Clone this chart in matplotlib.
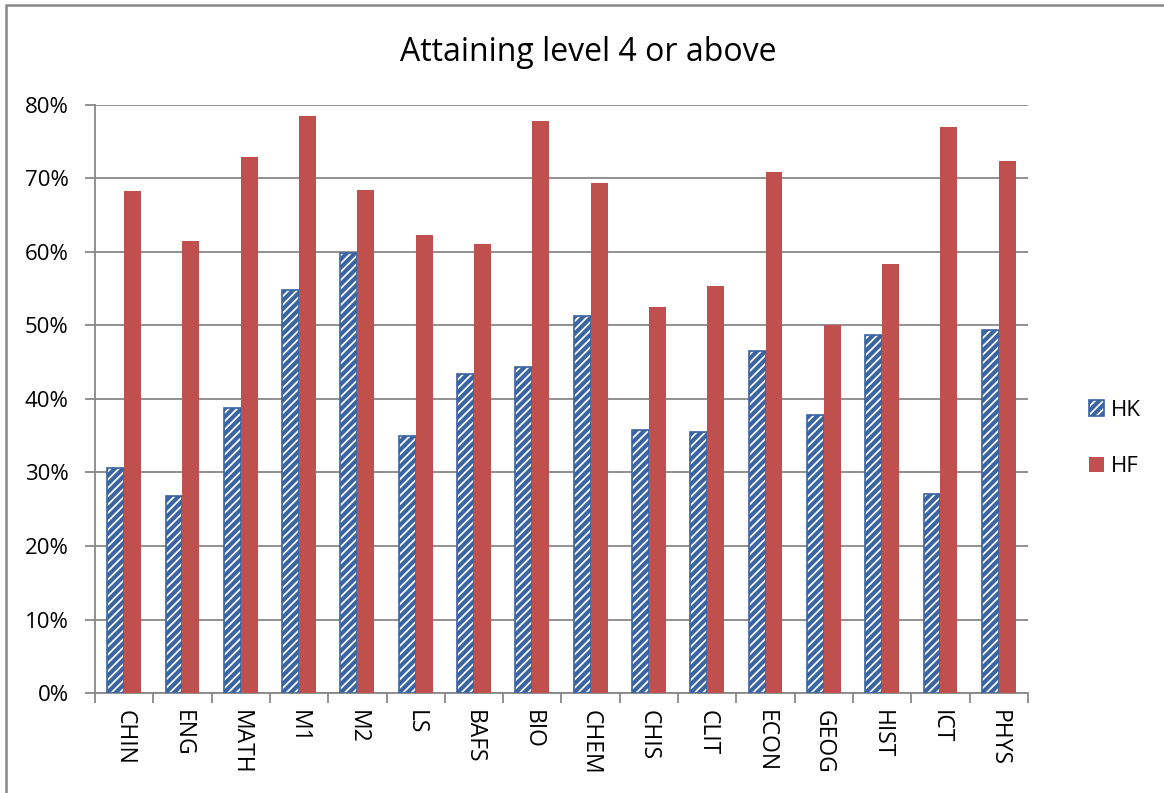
import numpy as np
import matplotlib.pyplot as plt
import matplotlib as mpl
from matplotlib.patches import Rectangle, Patch

subjects = ['CHIN', 'ENG', 'MATH', 'M1', 'M2', 'LS', 'BAFS', 'BIO', 'CHEM',
            'CHIS', 'CLIT', 'ECON', 'GEOG', 'HIST', 'ICT', 'PHYS']
hk = [30.6, 26.8, 38.8, 54.8, 59.9, 35.0, 43.4, 44.4, 51.3,
      35.8, 35.5, 46.5, 37.8, 48.7, 27.1, 49.3]
hf = [68.2, 61.4, 72.9, 78.5, 68.4, 62.3, 61.1, 77.8, 69.4,
      52.5, 55.4, 70.9, 50.1, 58.4, 76.9, 72.4]

mpl.rcParams['font.family'] = ['Open Sans', 'DejaVu Sans']
mpl.rcParams['hatch.linewidth'] = 3.0

blue = '#3A64A2'
red = '#C0504D'
grey = '#888888'

fig = plt.figure(figsize=(11.64, 7.93), dpi=100)
ax = fig.add_axes([0.0816, 0.126, 0.8015, 0.742])

x = np.arange(len(subjects))
w = 0.29
ax.bar(x - w / 2, np.array(hk) / 100, w, facecolor='white', edgecolor=blue,
       hatch='////', linewidth=1.2, label='HK', zorder=3)
ax.bar(x + w / 2, np.array(hf) / 100, w, color=red, label='HF', zorder=3)

ax.set_xlim(-0.5, len(subjects) - 0.5)
ax.set_ylim(0, 0.8)
ax.set_yticks(np.arange(0, 0.81, 0.1))
ax.set_yticklabels([f'{int(v)}%' for v in np.arange(0, 81, 10)], fontsize=16)
ax.yaxis.grid(True, color=grey, linewidth=1.3, zorder=0)
ax.set_axisbelow(True)

# category labels between boundary tick marks
ax.set_xticks(np.arange(-0.5, len(subjects), 1))
ax.set_xticklabels([])
ax.set_xticks(x, minor=True)
ax.set_xticklabels(subjects, minor=True, rotation=-90, fontsize=16.5)
ax.tick_params(axis='x', which='minor', length=0, pad=12)
ax.tick_params(axis='x', which='major', length=7, width=1.3, color=grey)
ax.tick_params(axis='y', length=7, width=1.3, color=grey, pad=12)

for side in ['top', 'right']:
    ax.spines[side].set_visible(False)
for side in ['left', 'bottom']:
    ax.spines[side].set_color(grey)
    ax.spines[side].set_linewidth(1.3)

fig.text(0.505, 0.934, 'Attaining level 4 or above', fontsize=23,
         ha='center', va='center')

handles = [Patch(facecolor='white', edgecolor=blue, hatch='////', linewidth=1.2),
           Patch(facecolor=red)]
fig.legend(handles, ['HK', 'HF'], loc='center left', bbox_to_anchor=(0.918, 0.447),
           frameon=False, fontsize=16, handlelength=0.7, handleheight=0.7,
           handletextpad=0.3, labelspacing=1.6)

fig.patches.append(Rectangle((0.0055, -0.01), 1.02, 1.0035, transform=fig.transFigure,
                             fill=False, edgecolor=grey, linewidth=1.8))

fig.savefig('out.png', dpi=100)
